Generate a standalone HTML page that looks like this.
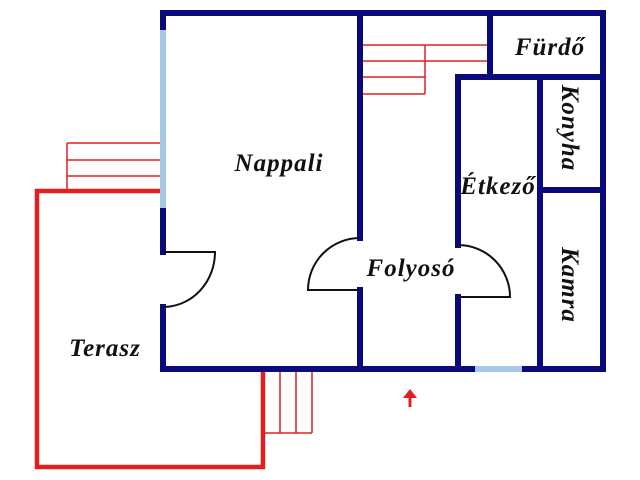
<!DOCTYPE html>
<html><head><meta charset="utf-8"><style>
html,body{margin:0;padding:0;background:#fff;}
svg{display:block;}
text{font-family:"Liberation Serif",serif;font-weight:bold;font-style:italic;font-size:25px;letter-spacing:1px;fill:#111;}
</style></head><body>
<svg width="640" height="480" viewBox="0 0 640 480" xmlns="http://www.w3.org/2000/svg">
<g stroke="#e02020" stroke-width="1.5" fill="none">
<line x1="360" y1="45" x2="490" y2="45"/><line x1="360" y1="61" x2="490" y2="61"/>
<line x1="360" y1="77" x2="425" y2="77"/><line x1="360" y1="94" x2="425" y2="94"/>
<line x1="425" y1="45" x2="425" y2="94"/>
<line x1="67" y1="143" x2="163" y2="143"/><line x1="67" y1="160" x2="163" y2="160"/><line x1="67" y1="176" x2="163" y2="176"/>
<line x1="67" y1="143" x2="67" y2="191"/>
<line x1="280" y1="372" x2="280" y2="433"/><line x1="296" y1="372" x2="296" y2="433"/><line x1="312" y1="372" x2="312" y2="433"/>
<line x1="263" y1="433" x2="312" y2="433"/>
</g>
<path d="M163 191 H37 V467 H263 V369" stroke="#e02020" stroke-width="4.5" fill="none"/>
<g stroke="#0a0a7a" stroke-width="6" fill="none" stroke-linecap="square">
<path d="M163 30 V13 H603 V369 H522"/>
<path d="M475 369 H163 V307"/>
<line x1="163" y1="208" x2="163" y2="252"/>
<line x1="360" y1="13" x2="360" y2="238"/><line x1="360" y1="290" x2="360" y2="369"/>
<line x1="458" y1="77" x2="458" y2="245"/><line x1="458" y1="297" x2="458" y2="369"/>
<line x1="458" y1="77" x2="603" y2="77"/>
<line x1="490" y1="13" x2="490" y2="77"/>
<line x1="540" y1="77" x2="540" y2="369"/>
<line x1="540" y1="190" x2="603" y2="190"/>
</g>
<g stroke="#a8c8ea" stroke-width="6">
<line x1="163" y1="30" x2="163" y2="208"/>
<line x1="475" y1="369" x2="522" y2="369"/>
</g>
<g stroke="#111" stroke-width="2" fill="none">
<path d="M163 252 H215 A52 55 0 0 1 163 307"/>
<path d="M360 238 A52 52 0 0 0 308 290 H360"/>
<path d="M458 245 A52 52 0 0 1 510 297 H458"/>
</g>
<path d="M410 407 V396" stroke="#e02020" stroke-width="3"/>
<path d="M403 398 L410 389 L417 398 Z" fill="#e02020"/>
<text x="279" y="171" text-anchor="middle">Nappali</text>
<text x="411" y="276" text-anchor="middle">Folyosó</text>
<text x="498" y="194" text-anchor="middle">Étkező</text>
<text x="105" y="356" text-anchor="middle">Terasz</text>
<text x="550" y="55" text-anchor="middle">Fürdő</text>
<text transform="translate(562,128) rotate(90)" text-anchor="middle">Konyha</text>
<text transform="translate(562,285) rotate(90)" text-anchor="middle">Kamra</text>
</svg>
</body></html>
